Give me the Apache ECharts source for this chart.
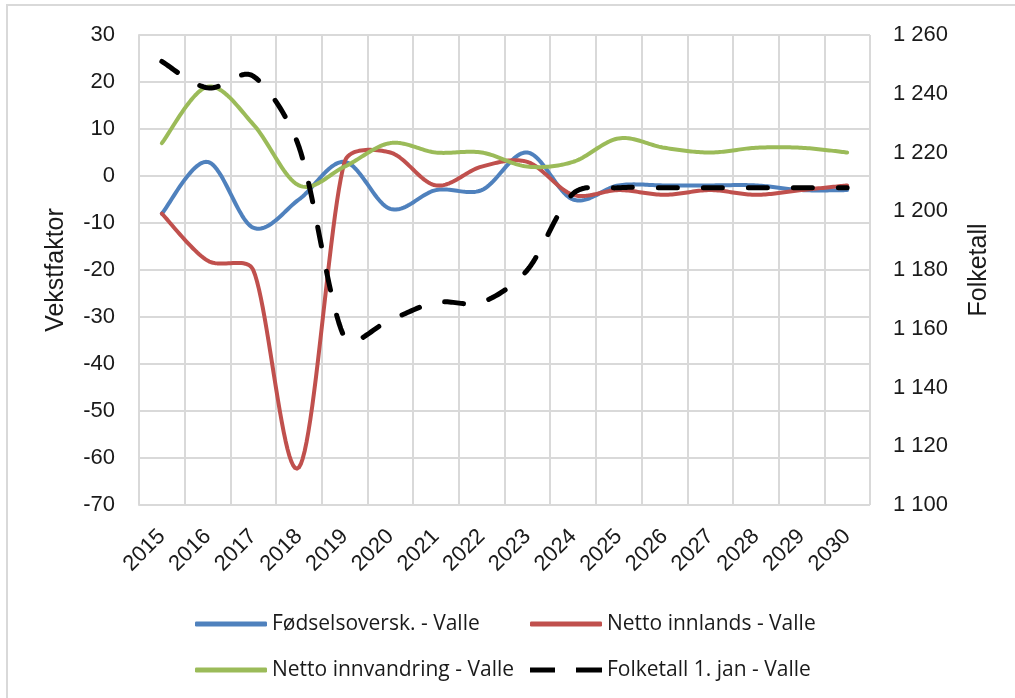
<!DOCTYPE html>
<html>
<head>
<meta charset="utf-8">
<script src="https://cdn.jsdelivr.net/npm/echarts@6/dist/echarts.min.js"></script>
<style>
html,body{margin:0;padding:0;background:#fff;}
#chart{width:1015px;height:698px;}
</style>
</head>
<body>
<div id="chart"></div>
<script>
var years = ['2015','2016','2017','2018','2019','2020','2021','2022','2023','2024','2025','2026','2027','2028','2029','2030'];
var fodselsoversk = [-8, 3, -11, -5, 3, -7, -3, -3, 5, -5, -2, -2, -2, -2, -3, -3];
var nettoInnlands = [-8, -18, -20, -62, 3, 5, -2, 2, 3, -4, -3, -4, -3, -4, -3, -2];
var nettoInnvandring = [7, 19, 11, -2, 2, 7, 5, 5, 2, 3, 8, 6, 5, 6, 6, 5];
var folketall = [1251, 1242, 1246, 1222, 1157, 1163, 1169, 1169, 1180, 1206, 1208, 1208, 1208, 1208, 1208, 1208];

var leftTicks = {min: -70, max: 30, interval: 10};
var rightTicks = {min: 1100, max: 1260, interval: 20};

var names = ['Fødselsoversk. - Valle', 'Netto innlands - Valle', 'Netto innvandring - Valle', 'Folketall 1. jan - Valle'];
var colors = ['#4F81BD', '#C0504D', '#9BBB59', '#000000'];

var chart = echarts.init(document.getElementById('chart'));
var FONT = 'Liberation Sans, Arial, sans-serif';
var legendText = {fontFamily: 'Open Sans, Liberation Sans, sans-serif', fontSize: 21, color: '#1a1a1a', lineHeight: 24};
var dashIcon = 'path://M0,0h25v5h-25z M46,0h26v5h-26z';

function limitVec(v, maxLen) {
  var l = Math.sqrt(v[0] * v[0] + v[1] * v[1]);
  if (l <= maxLen || l === 0) return v;
  return [v[0] * maxLen / l, v[1] * maxLen / l];
}

// Smoothed line (spreadsheet-style smoothing), positioned via the axes' scales
function smoothLine(name, values, color, yAxisIndex, width, dash) {
  return {
    name: name, type: 'custom', coordinateSystem: 'cartesian2d', yAxisIndex: yAxisIndex,
    data: values.map(function (v, i) { return [i, v]; }),
    encode: {x: 0, y: 1},
    itemStyle: {color: color},
    clip: false,
    renderItem: function (params, api) {
      if (params.dataIndex !== 0) return null;
      var p = values.map(function (v, i) { return api.coord([i, v]); });
      var n = p.length, out = [p[0]];
      var T = 1 / 6, K = 1 / 3, STEPS = 24;
      for (var i = 0; i < n - 1; i++) {
        var p0 = p[Math.max(i - 1, 0)], p1 = p[i], p2 = p[i + 1], p3 = p[Math.min(i + 2, n - 1)];
        var segLen = Math.sqrt((p2[0] - p1[0]) * (p2[0] - p1[0]) + (p2[1] - p1[1]) * (p2[1] - p1[1]));
        var t1 = limitVec([(p2[0] - p0[0]) * T, (p2[1] - p0[1]) * T], K * segLen);
        var t2 = limitVec([(p3[0] - p1[0]) * T, (p3[1] - p1[1]) * T], K * segLen);
        var c1 = [p1[0] + t1[0], p1[1] + t1[1]];
        var c2 = [p2[0] - t2[0], p2[1] - t2[1]];
        for (var s = 1; s <= STEPS; s++) {
          var t = s / STEPS, u = 1 - t;
          out.push([
            u*u*u*p1[0] + 3*u*u*t*c1[0] + 3*u*t*t*c2[0] + t*t*t*p2[0],
            u*u*u*p1[1] + 3*u*u*t*c1[1] + 3*u*t*t*c2[1] + t*t*t*p2[1]
          ]);
        }
      }
      return {
        type: 'polyline', shape: {points: out},
        style: {stroke: color, fill: null, lineWidth: width, lineDash: dash || null, lineCap: 'round', lineJoin: 'round'}
      };
    }
  };
}

var option = {
  animation: false,
  backgroundColor: '#fff',
  graphic: [{
    type: 'rect', shape: {x: 7, y: 5, width: 1200, height: 1000},
    style: {fill: 'none', stroke: '#d9d9d9', lineWidth: 2}, silent: true
  }],
  grid: {left: 139, right: 145, top: 35, bottom: 193, containLabel: false},
  legend: [{
    orient: 'vertical', left: 190, top: 607, itemWidth: 72, itemHeight: 5, itemGap: 22,
    textStyle: legendText,
    data: [{name: names[0], icon: 'roundRect'}, {name: names[2], icon: 'roundRect'}]
  }, {
    orient: 'vertical', left: 525, top: 607, itemWidth: 72, itemHeight: 5, itemGap: 22,
    textStyle: legendText,
    data: [{name: names[1], icon: 'roundRect'}, {name: names[3], icon: dashIcon}]
  }],
  xAxis: {
    type: 'category', data: years, boundaryGap: true,
    axisLine: {show: true, lineStyle: {color: '#d9d9d9', width: 2}},
    axisTick: {show: false},
    splitLine: {show: true, lineStyle: {color: '#d9d9d9', width: 2}},
    axisLabel: {rotate: 45, interval: 0, margin: 28, fontFamily: FONT, fontSize: 22, color: '#1a1a1a'}
  },
  yAxis: [{
    type: 'value', min: leftTicks.min, max: leftTicks.max, interval: leftTicks.interval,
    name: 'Vekstfaktor', nameLocation: 'middle', nameGap: 70, nameRotate: 90,
    nameTextStyle: {fontFamily: FONT, fontSize: 25, color: '#1a1a1a'},
    axisLine: {show: true, lineStyle: {color: '#d9d9d9', width: 2}},
    axisTick: {show: false},
    splitLine: {show: true, lineStyle: {color: '#d9d9d9', width: 2}},
    axisLabel: {margin: 24, fontFamily: FONT, fontSize: 22, color: '#1a1a1a'}
  }, {
    type: 'value', min: rightTicks.min, max: rightTicks.max, interval: rightTicks.interval,
    name: 'Folketall', nameLocation: 'middle', nameGap: 97, nameRotate: 90,
    nameTextStyle: {fontFamily: FONT, fontSize: 25, color: '#1a1a1a'},
    axisLine: {show: false}, axisTick: {show: false}, splitLine: {show: false},
    axisLabel: {margin: 23, fontFamily: FONT, fontSize: 22, color: '#1a1a1a',
      formatter: function (v) { var s = String(v); return s.length > 3 ? s.slice(0, s.length - 3) + ' ' + s.slice(-3) : s; }}
  }],
  series: [
    smoothLine(names[0], fodselsoversk, colors[0], 0, 4),
    smoothLine(names[1], nettoInnlands, colors[1], 0, 4),
    smoothLine(names[2], nettoInnvandring, colors[2], 0, 4),
    smoothLine(names[3], folketall, colors[3], 1, 5, [19, 26])
  ]
};
chart.setOption(option);
</script>
</body>
</html>
